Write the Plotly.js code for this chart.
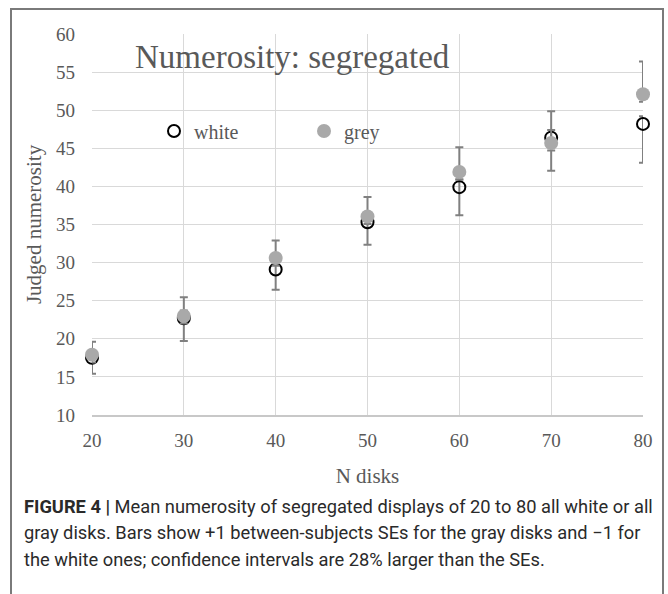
<!DOCTYPE html>
<html>
<head>
<meta charset="utf-8">
<script src="https://cdn.plot.ly/plotly-3.0.1.min.js"></script>
<style>
  html, body { margin: 0; padding: 0; background: #fff; }
  #chart { width: 668px; height: 594px; }
</style>
</head>
<body>
<div id="chart"></div>
<script>
// ---- data ----
const nDisks = [20, 30, 40, 50, 60, 70, 80];
const whiteMean = [17.5, 22.7, 29.1, 35.3, 39.9, 46.4, 48.2];
const greyMean  = [17.9, 23.0, 30.6, 36.05, 41.9, 45.7, 52.1];
const greySEplus   = [1.7, 2.45, 2.3, 2.55, 3.25, 4.15, 4.3];
const whiteSEminus = [2.1, 3.0, 2.65, 2.95, 3.7, 4.35, 5.1];
const greyMinusSmall  = [1.0, 1.0, 1.0, 1.0, 1.0, 1.0, 1.0];
const whitePlusSmall  = [1.0, 1.0, 1.0, 1.0, 1.0, 1.0, 1.0];
const xTicks = [20, 30, 40, 50, 60, 70, 80];
const yTicks = [10, 15, 20, 25, 30, 35, 40, 45, 50, 55, 60];
const seriesNames = ['white', 'grey'];
const chartTitle = 'Numerosity: segregated';
const xTitle = 'N disks';
const yTitle = 'Judged numerosity';
const captionLines = [
  '<b>FIGURE 4 |</b> Mean numerosity of segregated displays of 20 to 80 all white or all',
  'gray disks. Bars show +1 between-subjects SEs for the gray disks and \u22121 for',
  'the white ones; confidence intervals are 28% larger than the SEs.'
];

const serif = 'Liberation Serif, DejaVu Serif, serif';
const textGrey = '#595959';
const barColor = '#808080';

const traces = [
  {
    x: nDisks, y: whiteMean, name: seriesNames[0], type: 'scatter', mode: 'markers',
    cliponaxis: false,
    marker: { symbol: 'circle-open', size: 12, color: '#000', line: { width: 2, color: '#000' } },
    error_y: { type: 'data', symmetric: false, array: whitePlusSmall, arrayminus: whiteSEminus,
               color: barColor, thickness: 2, width: 4 },
    legend: 'legend'
  },
  {
    x: nDisks, y: greyMean, name: seriesNames[1], type: 'scatter', mode: 'markers',
    cliponaxis: false,
    marker: { symbol: 'circle', size: 14, color: '#a9a9a9' },
    error_y: { type: 'data', symmetric: false, array: greySEplus, arrayminus: greyMinusSmall,
               color: barColor, thickness: 2, width: 4 },
    legend: 'legend2'
  }
];

const L = 92, R = 643, T = 34, B = 415;
const W = 668, H = 594;
const px = v => (v - L) / (R - L);
const py = v => (B - v) / (B - T);

const captionAnn = captionLines.map((t, i) => ({
  text: t, xref: 'paper', yref: 'paper',
  x: px(22), y: py(506 + i * 26.5),
  xanchor: 'left', yanchor: 'middle', showarrow: false, align: 'left',
  font: { family: 'Roboto, Liberation Sans, sans-serif', size: 18.3, color: '#2a2a2a' }
}));

const layout = {
  width: W, height: H,
  margin: { l: L, r: W - R, t: T, b: H - B },
  paper_bgcolor: '#fff', plot_bgcolor: '#fff',
  showlegend: true,
  legend: {
    x: px(154), y: py(131), xanchor: 'left', yanchor: 'middle',
    bgcolor: 'rgba(0,0,0,0)', font: { family: serif, size: 20, color: textGrey },
    itemwidth: 30
  },
  legend2: {
    x: px(304), y: py(131), xanchor: 'left', yanchor: 'middle',
    bgcolor: 'rgba(0,0,0,0)', font: { family: serif, size: 20, color: textGrey },
    itemwidth: 30
  },
  xaxis: {
    range: [20, 80], tickvals: xTicks, ticktext: xTicks.map(String),
    showgrid: true, gridcolor: '#d9d9d9', gridwidth: 1.2,
    zeroline: false, showline: true, linecolor: '#c8c8c8', linewidth: 1.5,
    ticks: '', ticklabelstandoff: 8,
    tickfont: { family: serif, size: 19, color: textGrey },
    title: { text: xTitle, font: { family: serif, size: 21, color: textGrey }, standoff: 18 }
  },
  yaxis: {
    range: [10, 60], tickvals: yTicks, ticktext: yTicks.map(String),
    showgrid: true, gridcolor: '#d9d9d9', gridwidth: 1.2,
    zeroline: false, showline: false,
    ticks: '', ticklabelstandoff: 16,
    tickfont: { family: serif, size: 19, color: textGrey },
    title: { text: yTitle, font: { family: serif, size: 21, color: textGrey }, standoff: 8 }
  },
  shapes: [
    {
      type: 'rect', xref: 'paper', yref: 'paper', layer: 'above',
      x0: px(11), x1: px(663), y0: py(600), y1: py(9),
      line: { color: '#7a7a7a', width: 2 }, fillcolor: 'rgba(0,0,0,0)'
    }
  ],
  annotations: [
    {
      text: chartTitle, xref: 'paper', yref: 'paper',
      x: px(133), y: py(57), xanchor: 'left', yanchor: 'middle',
      showarrow: false, font: { family: serif, size: 33, color: textGrey }
    }
  ].concat(captionAnn)
};

Plotly.newPlot('chart', traces, layout, { staticPlot: true, displayModeBar: false });
</script>
</body>
</html>
